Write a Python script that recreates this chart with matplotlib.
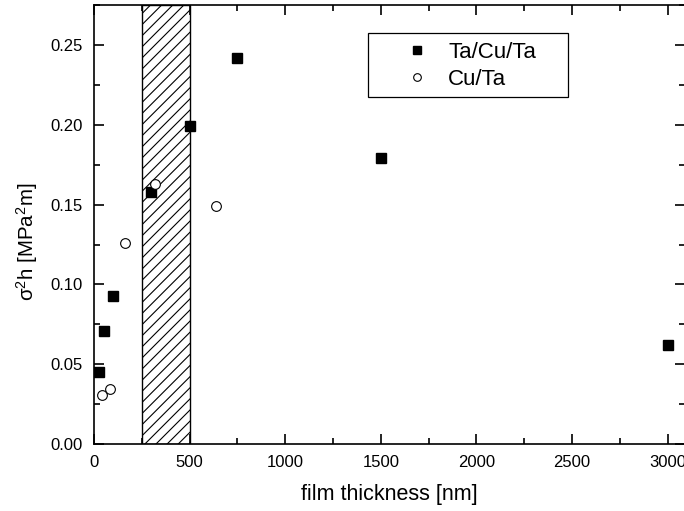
import numpy as np
import matplotlib.pyplot as plt
from matplotlib.patches import Rectangle

plt.rcParams['font.family'] = ['Liberation Sans', 'DejaVu Sans']
plt.rcParams['mathtext.fontset'] = 'custom'
plt.rcParams['mathtext.rm'] = 'Liberation Sans'
plt.rcParams['mathtext.it'] = 'Liberation Sans:italic'
plt.rcParams['hatch.linewidth'] = 0.8

# data
tct_x = [25, 50, 100, 300, 500, 750, 1500, 3000]
tct_y = [0.045, 0.071, 0.093, 0.158, 0.199, 0.242, 0.179, 0.062]
ct_x = [42, 84, 162, 321, 639]
ct_y = [0.031, 0.0345, 0.126, 0.163, 0.149]
band = (250, 500)

fig = plt.figure(figsize=(6.84, 5.11), dpi=100)
ax = fig.add_axes([0.1374, 0.131, 0.8640, 0.859])

# hatched band
ax.axvspan(band[0], band[1], facecolor='white', edgecolor='black',
           hatch='///', linewidth=1.0, zorder=1)

ax.plot(tct_x, tct_y, 's', color='black', markersize=6.5, label='Ta/Cu/Ta', zorder=3)
ax.plot(ct_x, ct_y, 'o', markerfacecolor='white', markeredgecolor='black',
        markersize=7, markeredgewidth=0.8, label='Cu/Ta', zorder=3)

ax.set_xlim(0, 3090)
ax.set_ylim(0, 0.275)
ax.set_xticks(np.arange(0, 3001, 500))
ax.set_xticks(np.arange(0, 3001, 250), minor=True)
ax.set_yticks(np.arange(0, 0.26, 0.05))
ax.set_yticks(np.arange(0, 0.276, 0.025), minor=True)
ax.set_yticklabels(['%.2f' % v for v in np.arange(0, 0.26, 0.05)])

ax.tick_params(which='both', direction='in', top=True, right=True, labelsize=12, width=1.2)
ax.tick_params(which='major', length=7)
ax.tick_params(which='minor', length=4)
ax.tick_params(axis='x', pad=8)
ax.tick_params(axis='y', pad=8)
for s in ax.spines.values():
    s.set_linewidth(1.2)

ax.set_xlabel('film thickness [nm]', fontsize=15.5, labelpad=10)
ax.set_ylabel('σ$^2$h [MPa$^2$m]', fontsize=14.8)
ax.yaxis.set_label_coords(-0.092, 0.461)

# legend box drawn separately, legend entries without frame
ax.add_patch(Rectangle((0.4636, 0.790), 0.3384, 0.146, transform=ax.transAxes,
                       facecolor='white', edgecolor='black', linewidth=0.9, zorder=4))
leg = ax.legend(loc='center left', bbox_to_anchor=(0.5127, 0.861), fontsize=16,
                frameon=False, handletextpad=0.5, borderpad=0, handlelength=1.8,
                labelspacing=0.28, borderaxespad=0)
leg.set_zorder(5)
for h in leg.legend_handles:
    h.set_markersize(5.5)

fig.savefig('out.png', dpi=100)
